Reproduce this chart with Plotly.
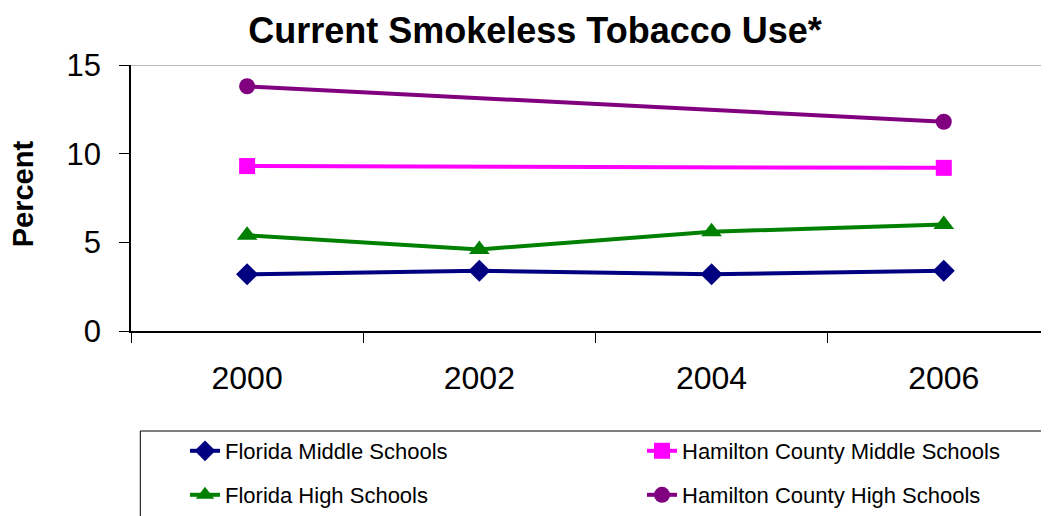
import plotly.graph_objects as go

years = ["2000", "2002", "2004", "2006"]
florida_middle = [3.2, 3.4, 3.2, 3.4]
hamilton_middle = [9.3, None, None, 9.2]
florida_high = [5.4, 4.6, 5.6, 6.0]
hamilton_high = [13.8, None, None, 11.8]

names = ["Florida Middle Schools", "Hamilton County Middle Schools",
         "Florida High Schools", "Hamilton County High Schools"]
series = [florida_middle, hamilton_middle, florida_high, hamilton_high]
colors = ["#000080", "#FF00FF", "#008000", "#800080"]
symbols = ["diamond", "square", "triangle-up", "circle"]
sizes = [17, 16, 18, 16]
legends = ["legend", "legend", "legend2", "legend2"]

FONT = "Liberation Sans, Arial, sans-serif"
OFF = 8  # page body margin
W, H = 1049 - OFF, 516 - OFF
L, T, B = 130.7 - OFF, 65 - OFF, 331 - OFF
R = W
pw, ph = R - L, B - T
STEP = 232.3

def px_x(x):  # window px -> paper
    return (x - OFF - L) / pw

def px_y(y):
    return (B - (y - OFF)) / ph

fig = go.Figure()
for n, s, c, sym, sz, lg in zip(names, series, colors, symbols, sizes, legends):
    fig.add_trace(go.Scatter(
        x=years, y=s, name=n, mode="lines+markers", connectgaps=True,
        line=dict(color=c, width=4),
        marker=dict(symbol=sym, size=sz, color=c),
        legend=lg,
    ))

legend_common = dict(
    orientation="h", xanchor="left", yanchor="middle",
    xref="container", yref="container",
    font=dict(family=FONT, size=22, color="#000"),
    bgcolor="rgba(0,0,0,0)", entrywidth=412, entrywidthmode="pixels",
    itemclick=False, itemdoubleclick=False,
)

fig.update_layout(
    width=W, height=H,
    margin=dict(l=L, r=0, t=T, b=H - B),
    paper_bgcolor="white", plot_bgcolor="white",
    title=dict(text="<b>Current Smokeless Tobacco Use*</b>",
               font=dict(family=FONT, size=36, color="#000"),
               x=(535 - OFF) / W, xanchor="center", y=1 - (30 - OFF) / H, yanchor="middle"),
    xaxis=dict(type="category", range=[-0.5, 3.5 - (L + 4 * STEP - R) / STEP],
               tickson="boundaries", ticks="outside", ticklen=10, tickcolor="#000",
               tickwidth=1, showline=True, linecolor="#000", linewidth=1.5,
               showgrid=False, fixedrange=True, automargin=False,
               tickfont=dict(family=FONT, size=32, color="#000"),
               ticklabelstandoff=18),
    yaxis=dict(range=[0, 15], tickvals=[0, 5, 10, 15], ticks="outside", ticklen=10,
               tickcolor="#000", tickwidth=1, showline=True, linecolor="#000", linewidth=1.5,
               showgrid=False, zeroline=False, automargin=False,
               ticklabelstandoff=12,
               tickfont=dict(family=FONT, size=31, color="#000")),
    legend=dict(legend_common, x=(185 - OFF) / W, y=1 - (451 - OFF) / H),
    legend2=dict(legend_common, x=(185 - OFF) / W, y=1 - (495 - OFF) / H),
    showlegend=True,
    annotations=[
        dict(text="<b>Percent</b>", textangle=-90, xref="paper", yref="paper",
             x=px_x(23), y=px_y(194), xanchor="center", yanchor="middle",
             showarrow=False, font=dict(family=FONT, size=29, color="#000")),
    ],
    shapes=[
        dict(type="line", xref="paper", yref="y", x0=0, x1=1, y0=15, y1=15,
             line=dict(color="#a0a0a0", width=1.5)),
        dict(type="rect", xref="paper", yref="paper",
             x0=px_x(140), x1=px_x(1047), y0=px_y(431), y1=px_y(540),
             line=dict(color="#000", width=1)),
    ],
)

fig.write_html("out.html")
